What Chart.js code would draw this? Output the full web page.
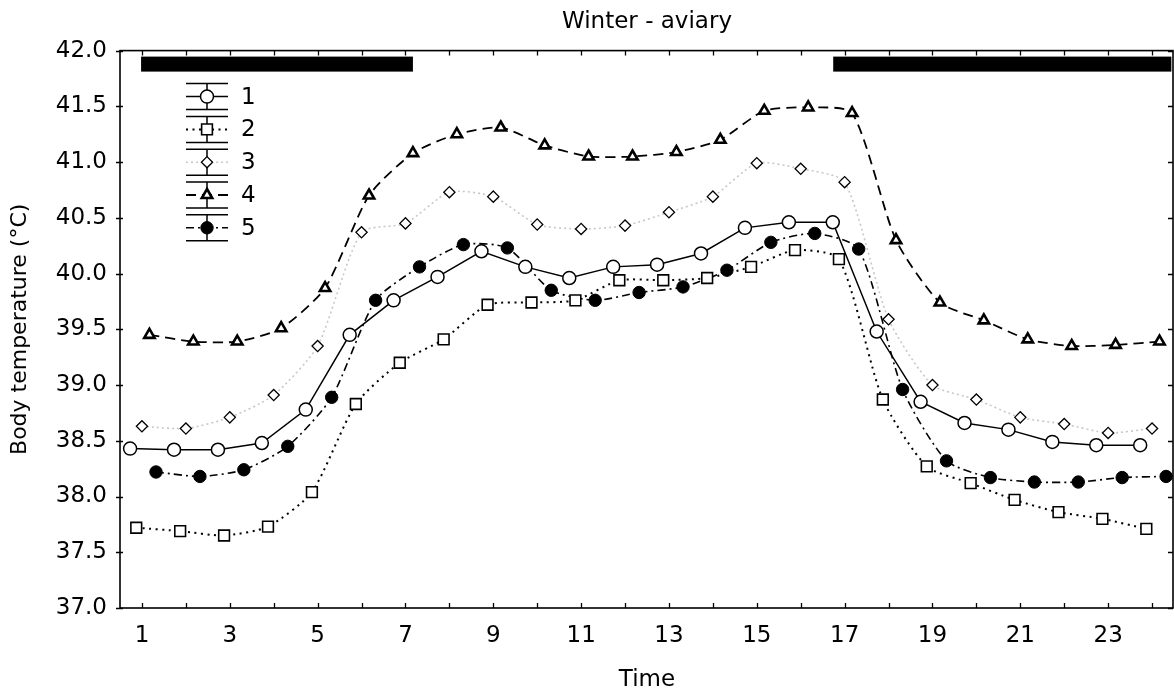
<!DOCTYPE html>
<html>
<head>
<meta charset="utf-8">
<script src="https://cdn.jsdelivr.net/npm/chart.js@4.4.0/dist/chart.umd.min.js"></script>
<style>
    html, body { margin: 0; padding: 0; background: #fff; }
</style>
</head>
<body>
<canvas id="grafico" width="1174" height="695"></canvas>
<script>
// Hours of measurement
var horas = [1, 2, 3, 4, 5, 6, 7, 8, 9, 10, 11, 12, 13, 14, 15, 16, 17, 18, 19, 20, 21, 22, 23, 24];

// Small horizontal shift of each group so the markers do not overlap
var deslocamento = [-0.27, -0.13, 0, 0.17, 0.32];

// Mean body temperature per group
var grupo1 = [38.43, 38.42, 38.42, 38.48, 38.78, 39.45, 39.76, 39.97, 40.20, 40.06, 39.96, 40.06, 40.08, 40.18, 40.41, 40.46, 40.46, 39.48, 38.85, 38.66, 38.60, 38.49, 38.46, 38.46];
var grupo2 = [37.72, 37.69, 37.65, 37.73, 38.04, 38.83, 39.20, 39.41, 39.72, 39.74, 39.76, 39.94, 39.94, 39.96, 40.06, 40.21, 40.13, 38.87, 38.27, 38.12, 37.97, 37.86, 37.80, 37.71];
var grupo3 = [38.63, 38.61, 38.71, 38.91, 39.35, 40.37, 40.45, 40.73, 40.69, 40.44, 40.40, 40.43, 40.55, 40.69, 40.99, 40.94, 40.82, 39.59, 39.00, 38.87, 38.71, 38.65, 38.57, 38.61];
var grupo4 = [39.45, 39.39, 39.39, 39.51, 39.87, 40.70, 41.08, 41.25, 41.31, 41.15, 41.05, 41.05, 41.09, 41.20, 41.46, 41.49, 41.44, 40.30, 39.74, 39.58, 39.41, 39.35, 39.36, 39.39];
var grupo5 = [38.22, 38.18, 38.24, 38.45, 38.89, 39.76, 40.06, 40.26, 40.23, 39.85, 39.76, 39.83, 39.88, 40.03, 40.28, 40.36, 40.22, 38.96, 38.32, 38.17, 38.13, 38.13, 38.17, 38.18];

var nomesGrupos = ['1', '2', '3', '4', '5'];

// Labelled hours on the x axis
var rotulosX = [1, 3, 5, 7, 9, 11, 13, 15, 17, 19, 21, 23];

// Dark periods (black bars at the top)
var noiteInicio = [0.98, 16.74];
var noiteFim = [7.17, 24.44];

var fonte = 'DejaVu Sans';

function pontos(valores, k) {
    return valores.map(function (v, i) {
        return { x: horas[i] + deslocamento[k], y: v };
    });
}

var estilos = [
    { dash: [], cor: '#000', largura: 1.5, tensao: 0, ponto: 'circle', raio: 6.5, fundo: '#fff', bordaPonto: 1.5 },
    { dash: [2, 4.5], cor: '#000', largura: 2, tensao: 0.22, ponto: 'rect', raio: 7.6, fundo: '#fff', bordaPonto: 1.6 },
    { dash: [2, 3], cor: '#c8c8c8', largura: 1.6, tensao: 0.22, ponto: 'rectRot', raio: 5.6, fundo: '#fff', bordaPonto: 1.3 },
    { dash: [10, 6], cor: '#000', largura: 1.8, tensao: 0.22, ponto: 'triangle', raio: 6, fundo: '#fff', bordaPonto: 2.6 },
    { dash: [8, 4, 2, 4], cor: '#000', largura: 1.6, tensao: 0.22, ponto: 'circle', raio: 6.2, fundo: '#000', bordaPonto: 1 }
];

var grupos = [grupo1, grupo2, grupo3, grupo4, grupo5];

var conjuntos = grupos.map(function (g, k) {
    var e = estilos[k];
    return {
        label: nomesGrupos[k],
        data: pontos(g, k),
        borderColor: e.cor,
        borderWidth: e.largura,
        borderDash: e.dash,
        tension: e.tensao,
        pointStyle: e.ponto,
        pointRadius: e.raio,
        pointBackgroundColor: e.fundo,
        pointBorderColor: '#000',
        pointBorderWidth: e.bordaPonto,
        fill: false
    };
});

// Frame, inward ticks, dark bars and the legend with whiskers
var moldura = {
    id: 'moldura',
    afterDraw: function (chart) {
        var ctx = chart.ctx;
        var a = chart.chartArea;
        var x = chart.scales.x;
        var y = chart.scales.y;
        ctx.save();

        // dark periods
        ctx.fillStyle = '#000';
        for (var n = 0; n < noiteInicio.length; n++) {
            var xi = x.getPixelForValue(noiteInicio[n]);
            var xf = x.getPixelForValue(noiteFim[n]);
            ctx.fillRect(xi, a.top + 6, xf - xi, 15);
        }

        // frame
        ctx.strokeStyle = '#000';
        ctx.lineWidth = 1.6;
        ctx.setLineDash([]);
        ctx.strokeRect(a.left, a.top, a.right - a.left - 1, a.bottom - a.top);

        // ticks
        ctx.lineWidth = 1.3;
        ctx.beginPath();
        for (var h = 0; h < horas.length; h++) {
            var px = Math.round(x.getPixelForValue(horas[h])) + 0.5;
            ctx.moveTo(px, a.bottom);
            ctx.lineTo(px, a.bottom - 5);
            ctx.moveTo(px, a.top);
            ctx.lineTo(px, a.top + 5);
        }
        y.ticks.forEach(function (t) {
            var py = Math.round(y.getPixelForValue(t.value)) + 0.5;
            ctx.moveTo(a.left - 4, py);
            ctx.lineTo(a.left + 3, py);
            ctx.moveTo(a.right - 1, py);
            ctx.lineTo(a.right - 6, py);
        });
        ctx.stroke();

        // legend
        var x0 = a.left + 66, x1 = a.left + 108, xm = a.left + 87;
        ctx.font = '23px "' + fonte + '"';
        ctx.textBaseline = 'middle';
        ctx.textAlign = 'left';
        for (var k = 0; k < estilos.length; k++) {
            var e = estilos[k];
            var yc = a.top + 46 + k * 32.8;
            ctx.setLineDash([]);
            ctx.strokeStyle = '#000';
            ctx.lineWidth = 1.5;
            ctx.beginPath();
            ctx.moveTo(x0, yc - 13); ctx.lineTo(x1, yc - 13);
            ctx.moveTo(x0, yc + 13); ctx.lineTo(x1, yc + 13);
            ctx.moveTo(xm, yc - 13); ctx.lineTo(xm, yc + 13);
            ctx.stroke();
            ctx.strokeStyle = e.cor;
            ctx.lineWidth = e.largura;
            ctx.setLineDash(e.dash);
            ctx.beginPath();
            ctx.moveTo(x0, yc); ctx.lineTo(x1, yc);
            ctx.stroke();
            ctx.setLineDash([]);
            ctx.strokeStyle = '#000';
            ctx.fillStyle = e.fundo;
            ctx.lineWidth = e.bordaPonto;
            Chart.helpers.drawPoint(ctx, { pointStyle: e.ponto, radius: e.raio, rotation: 0, borderWidth: e.bordaPonto }, xm, yc);
            ctx.fillStyle = '#000';
            ctx.fillText(nomesGrupos[k], a.left + 121, yc + 1);
        }
        ctx.restore();
    }
};

var ctx = document.getElementById('grafico');

var myChart = new Chart(ctx, {
    type: 'line',
    data: { datasets: conjuntos },
    options: {
        responsive: false,
        animation: false,
        devicePixelRatio: 1,
        layout: { autoPadding: false, padding: 0 },
        scales: {
            x: {
                type: 'linear',
                min: 0.5,
                max: 24.5,
                grid: { display: false, drawTicks: false },
                border: { display: false },
                afterBuildTicks: function (s) {
                    s.ticks = rotulosX.map(function (v) { return { value: v }; });
                },
                ticks: {
                    autoSkip: false,
                    maxRotation: 0,
                    padding: 14,
                    color: '#000',
                    font: { family: fonte, size: 23 },
                    callback: function (v) { return String(v); }
                },
                title: {
                    display: true,
                    text: 'Time',
                    color: '#000',
                    font: { family: fonte, size: 23 },
                    padding: { top: 0, bottom: 1 }
                },
                afterFit: function (s) {
                    s.height = 87;
                    s.paddingLeft = 0;
                    s.paddingRight = 0;
                }
            },
            y: {
                min: 37,
                max: 42,
                grid: { display: false, drawTicks: false },
                border: { display: false },
                ticks: {
                    stepSize: 0.5,
                    padding: 13,
                    color: '#000',
                    font: { family: fonte, size: 23 },
                    callback: function (v) { return v.toFixed(1); }
                },
                title: {
                    display: true,
                    text: 'Body temperature (\u00B0C)',
                    color: '#000',
                    font: { family: fonte, size: 22 },
                    padding: { top: 7, bottom: 0 }
                },
                afterFit: function (s) { s.width = 120; }
            }
        },
        plugins: {
            legend: { display: false },
            tooltip: { enabled: false },
            title: {
                display: true,
                fullSize: false,
                text: 'Winter - aviary',
                color: '#000',
                font: { family: fonte, size: 23, weight: 'normal' },
                padding: { top: 8, bottom: 15 }
            }
        }
    },
    plugins: [moldura]
});
</script>
</body>
</html>
